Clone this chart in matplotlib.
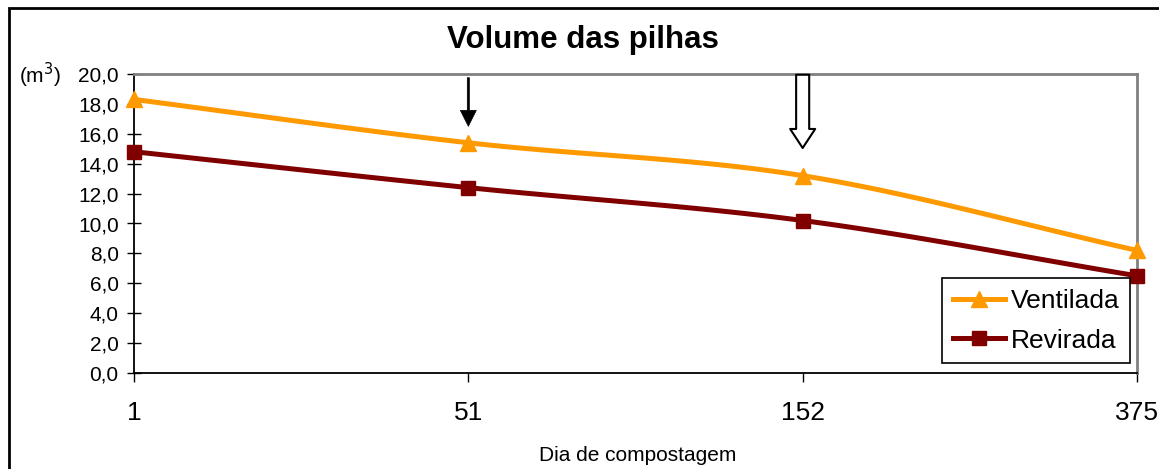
import numpy as np
import matplotlib
matplotlib.use("Agg")
import matplotlib.pyplot as plt
from matplotlib.patches import Rectangle
from matplotlib.lines import Line2D

plt.rcParams['font.family'] = ['Liberation Sans', 'DejaVu Sans']

days = ["1", "51", "152", "375"]
ventilada = [18.3, 15.4, 13.2, 8.2]
revirada = [14.8, 12.4, 10.2, 6.5]
yticks = [0, 2, 4, 6, 8, 10, 12, 14, 16, 18, 20]
ytick_labels = ["0,0", "2,0", "4,0", "6,0", "8,0", "10,0", "12,0", "14,0", "16,0", "18,0", "20,0"]

C_VENT = "#FF9900"
C_REV = "#800000"


def catmull_rom(xs, ys, n=40):
    xs = np.asarray(xs, float)
    ys = np.asarray(ys, float)
    px = np.concatenate([[2 * xs[0] - xs[1]], xs, [2 * xs[-1] - xs[-2]]])
    py = np.concatenate([[2 * ys[0] - ys[1]], ys, [2 * ys[-1] - ys[-2]]])
    ox, oy = [], []
    for i in range(1, len(px) - 2):
        t = np.linspace(0, 1, n, endpoint=(i == len(px) - 3))
        for p, out in ((px, ox), (py, oy)):
            p0, p1, p2, p3 = p[i - 1], p[i], p[i + 1], p[i + 2]
            out.extend(0.5 * ((2 * p1) + (-p0 + p2) * t
                              + (2 * p0 - 5 * p1 + 4 * p2 - p3) * t ** 2
                              + (-p0 + 3 * p1 - 3 * p2 + p3) * t ** 3))
    return np.array(ox), np.array(oy)


fig = plt.figure(figsize=(11.59, 4.69), dpi=100)
ax = fig.add_axes([134 / 1159, 1 - 373 / 469, (1137 - 134) / 1159, (373 - 74) / 469])

x = np.arange(len(days))
for vals, col, mk, ms, lab in ((ventilada, C_VENT, '^', 12, 'Ventilada'),
                               (revirada, C_REV, 's', 10, 'Revirada')):
    sx, sy = catmull_rom(x, vals)
    ax.plot(sx, sy, color=col, lw=3.6, solid_capstyle='round', clip_on=False, zorder=3)
    ax.plot(x, vals, linestyle='none', marker=mk, ms=ms, color=col, clip_on=False, zorder=4)

ax.set_xlim(0, 3)
ax.set_ylim(0, 20)
ax.set_xticks(x)
ax.set_xticklabels(days, fontsize=19)
ax.set_yticks(yticks)
ax.set_yticklabels(ytick_labels, fontsize=15)
ax.tick_params(axis='y', direction='inout', length=10, width=1, pad=6)
ax.tick_params(axis='x', direction='out', length=6.5, width=1, pad=14)

for s in ('top', 'right'):
    ax.spines[s].set_color('#808080')
    ax.spines[s].set_linewidth(2)
for s in ('left', 'bottom'):
    ax.spines[s].set_color('black')
    ax.spines[s].set_linewidth(1.3)

# arrows
ax.annotate('', xy=(1, 16.5), xytext=(1, 19.75),
            arrowprops=dict(arrowstyle='simple,head_width=11.5,head_length=11.5,tail_width=1.5',
                            mutation_scale=1, fc='black', ec='black', lw=0.5,
                            shrinkA=0, shrinkB=0), zorder=5)
ax.annotate('', xy=(2, 15.05), xytext=(2, 19.95),
            arrowprops=dict(arrowstyle='simple,head_width=18,head_length=13.7,tail_width=9.4',
                            mutation_scale=1, fc='white', ec='black', lw=1.5,
                            shrinkA=0, shrinkB=0), zorder=5)

handles = [Line2D([], [], color=C_VENT, lw=3.6, marker='^', ms=12),
           Line2D([], [], color=C_REV, lw=3.6, marker='s', ms=10)]
leg = ax.legend(handles, ['Ventilada', 'Revirada'], loc='lower right',
                bbox_to_anchor=(0.993, 0.033), borderaxespad=0, fontsize=19,
                fancybox=False, shadow=False, framealpha=1, edgecolor='black',
                handlelength=2.0, handletextpad=0.2, borderpad=0.4, labelspacing=0.6)
leg.get_frame().set_linewidth(1.2)

fig.text(0.503, 1 - 48 / 469, 'Volume das pilhas', fontsize=22.5, fontweight='bold',
         ha='center', va='baseline')
fig.text(40 / 1159, 1 - 75 / 469, '(m$^3$)', fontsize=15, ha='center', va='center')
fig.text(638 / 1159, 1 - 461 / 469, 'Dia de compostagem', fontsize=15,
         ha='center', va='baseline')

fig.patches.append(Rectangle((9 / 1159, -0.1), 1.2, 0.1 + (1 - 8 / 469),
                             transform=fig.transFigure, fill=False, ec='black', lw=2))

fig.savefig('out.png', dpi=100)
